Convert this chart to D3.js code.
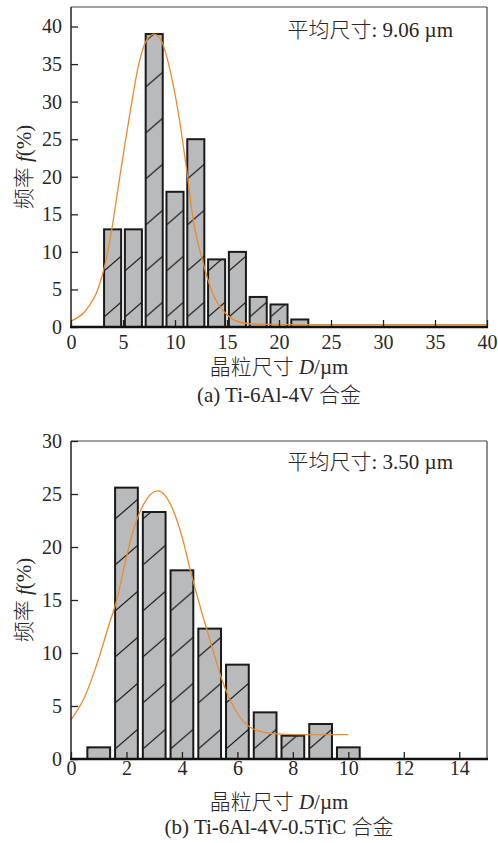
<!DOCTYPE html>
<html>
<head>
<meta charset="utf-8">
<script src="https://cdn.jsdelivr.net/npm/d3@7"></script>
<style>
  body { margin: 0; background: #fff; }
  text { font-family: "Liberation Serif", "Noto Sans CJK SC", serif; fill: #2a2627; font-weight: 300; }
</style>
</head>
<body>
<div id="chart"></div>
<script>
// (a) Ti-6Al-4V
const sizeA = [4, 6, 8, 10, 12, 14, 16, 18, 20, 22];
const freqA = [13, 13, 39, 18, 25, 9, 10, 4, 3, 1];
const fitXA = [0, 1.35, 2.63, 3.27, 3.91, 4.55, 5.19, 5.83, 6.47, 7.27, 8.0, 8.72, 9.52, 10.32, 11.12, 11.76, 12.56, 13.53, 14.8, 16.7, 18.65, 22, 30, 40];
const fitYA = [0.8, 2.1, 5.2, 8.3, 12.9, 18.7, 24.4, 29.8, 34.7, 38.2, 39.0, 38.0, 34.2, 28.5, 20.9, 14.2, 9.3, 4.8, 1.9, 0.5, 0.35, 0.3, 0.3, 0.3];
const xTicksA = [0, 5, 10, 15, 20, 25, 30, 35, 40];
const yTicksA = [0, 5, 10, 15, 20, 25, 30, 35, 40];

// (b) Ti-6Al-4V-0.5TiC
const sizeB = [1, 2, 3, 4, 5, 6, 7, 8, 9, 10];
const freqB = [1.1, 25.6, 23.3, 17.8, 12.3, 8.9, 4.4, 2.2, 3.3, 1.1];
const fitXB = [0, 0.5, 0.99, 1.35, 1.65, 1.95, 2.25, 2.61, 3.13, 3.63, 4.0, 4.36, 4.72, 5.08, 5.44, 5.92, 6.52, 7.25, 8.2, 10];
const fitYB = [3.7, 5.9, 9.4, 12.5, 15.0, 18.5, 21.6, 24.0, 25.3, 23.8, 21.0, 17.2, 13.8, 10.6, 7.5, 4.65, 2.9, 2.4, 2.3, 2.3];
const xTicksB = [0, 2, 4, 6, 8, 10, 12, 14];
const yTicksB = [0, 5, 10, 15, 20, 25, 30];

const width = 498, height = 843;

const svg = d3.select('#chart').append('svg')
  .attr('width', width)
  .attr('height', height);

const drawPanel = (opt) => {
  const { id, sizes, freqs, fitX, fitY, xTicks, yTicks, xMax, yMax, bin, box, meanText, caption, tickPad } = opt;

  let x = d3.scaleLinear().domain([0, xMax]).range([box.left, box.right]);
  let y = d3.scaleLinear().domain([0, yMax]).range([box.bottom, box.top]);

  // hatch pattern for the bars
  let pat = svg.append('defs').append('pattern')
    .attr('id', id)
    .attr('patternUnits', 'userSpaceOnUse')
    .attr('width', 53)
    .attr('height', 46);
  pat.append('rect').attr('width', 53).attr('height', 46).attr('fill', '#b9babc');
  pat.append('line')
    .attr('x1', 0).attr('y1', 46).attr('x2', 53).attr('y2', 0)
    .attr('stroke', '#111').attr('stroke-width', 1.1);

  let bw = x(bin * 0.82) - x(0);

  let bar = svg.selectAll('.bar-' + id)
    .data(sizes.map((d, i) => ({ size: d, f: freqs[i] })))
    .enter().append('g')
    .attr('class', 'bar-' + id)
    .attr('transform', d => `translate(${x(d.size) - bw / 2},${box.bottom - 10})`);

  bar.append('rect')
    .attr('x', 0)
    .attr('y', d => y(d.f) - box.bottom + 10)
    .attr('width', bw)
    .attr('height', d => box.bottom - y(d.f))
    .attr('fill', `url(#${id})`)
    .attr('stroke', '#1a1a1a')
    .attr('stroke-width', 2);

  // fitted curve
  let line = d3.line()
    .x(d => x(d[0]))
    .y(d => y(d[1]))
    .curve(d3.curveMonotoneX);

  svg.append('path')
    .datum(fitX.map((d, i) => [d, fitY[i]]))
    .attr('d', line)
    .attr('fill', 'none')
    .attr('stroke', '#ef8a2a')
    .attr('stroke-width', 1.3);

  // frame
  svg.append('line')
    .attr('x1', box.left).attr('x2', box.right)
    .attr('y1', box.top).attr('y2', box.top)
    .attr('stroke', '#444').attr('stroke-width', 1.2);
  svg.append('line')
    .attr('x1', box.right).attr('x2', box.right)
    .attr('y1', box.top).attr('y2', box.bottom)
    .attr('stroke', '#444').attr('stroke-width', 1.2);
  svg.append('line')
    .attr('x1', box.left).attr('x2', box.left)
    .attr('y1', box.top).attr('y2', box.bottom)
    .attr('stroke', '#222').attr('stroke-width', 1.5);

  // axes
  let xAxis = d3.axisBottom(x).tickValues(xTicks).tickSize(-7).tickPadding(tickPad).tickSizeOuter(0);
  let yAxis = d3.axisLeft(y).tickValues(yTicks).tickSize(-7).tickPadding(9).tickSizeOuter(0);

  let gx = svg.append('g')
    .attr('transform', `translate(0,${box.bottom})`)
    .call(xAxis);
  let gy = svg.append('g')
    .attr('transform', `translate(${box.left},0)`)
    .call(yAxis);

  [gx, gy].forEach(g => {
    g.select('.domain').remove();
    g.selectAll('.tick line').attr('stroke', '#222').attr('stroke-width', 1.3);
    g.selectAll('.tick text')
      .style('font-family', '"Liberation Serif", serif')
      .style('font-size', '20px')
      .attr('fill', '#2a2627');
  });

  svg.append('line')
    .attr('x1', box.left - 1).attr('x2', box.right + 1)
    .attr('y1', box.bottom).attr('y2', box.bottom)
    .attr('stroke', '#111').attr('stroke-width', 2.6);

  // mean size label
  svg.append('text')
    .attr('x', 453)
    .attr('y', box.top + meanText.dy)
    .attr('text-anchor', 'end')
    .style('font-size', '21px')
    .text(meanText.text);

  // y title
  let yt = svg.append('text')
    .attr('transform', `translate(31,${(box.top + box.bottom) / 2}) rotate(-90)`)
    .attr('text-anchor', 'middle')
    .style('font-size', '21px');
  yt.append('tspan').text('频率 ');
  yt.append('tspan').style('font-style', 'italic').text('f');
  yt.append('tspan').text('(%)');

  // x title
  let cx = (box.left + box.right) / 2;
  let xt = svg.append('text')
    .attr('x', cx)
    .attr('y', opt.xTitleY)
    .attr('text-anchor', 'middle')
    .style('font-size', '21px');
  xt.append('tspan').text('晶粒尺寸 ');
  xt.append('tspan').style('font-style', 'italic').text('D');
  xt.append('tspan').text('/µm');

  svg.append('text')
    .attr('x', cx)
    .attr('y', opt.captionY)
    .attr('text-anchor', 'middle')
    .style('font-size', '21px')
    .text(caption);
};

drawPanel({
  id: 'hatchA',
  sizes: sizeA, freqs: freqA, fitX: fitXA, fitY: fitYA,
  xTicks: xTicksA, yTicks: yTicksA,
  xMax: 40, yMax: 42.6, bin: 2,
  box: { left: 71, right: 487, top: 7, bottom: 327 },
  meanText: { text: '平均尺寸: 9.06 µm', dy: 30 },
  caption: '(a) Ti-6Al-4V 合金',
  tickPad: 8,
  xTitleY: 374,
  captionY: 402
});

drawPanel({
  id: 'hatchB',
  sizes: sizeB, freqs: freqB, fitX: fitXB, fitY: fitYB,
  xTicks: xTicksB, yTicks: yTicksB,
  xMax: 15, yMax: 30, bin: 1,
  box: { left: 71, right: 487, top: 441, bottom: 759 },
  meanText: { text: '平均尺寸: 3.50 µm', dy: 28 },
  caption: '(b) Ti-6Al-4V-0.5TiC 合金',
  tickPad: 2,
  xTitleY: 809,
  captionY: 834
});
</script>
</body>
</html>
